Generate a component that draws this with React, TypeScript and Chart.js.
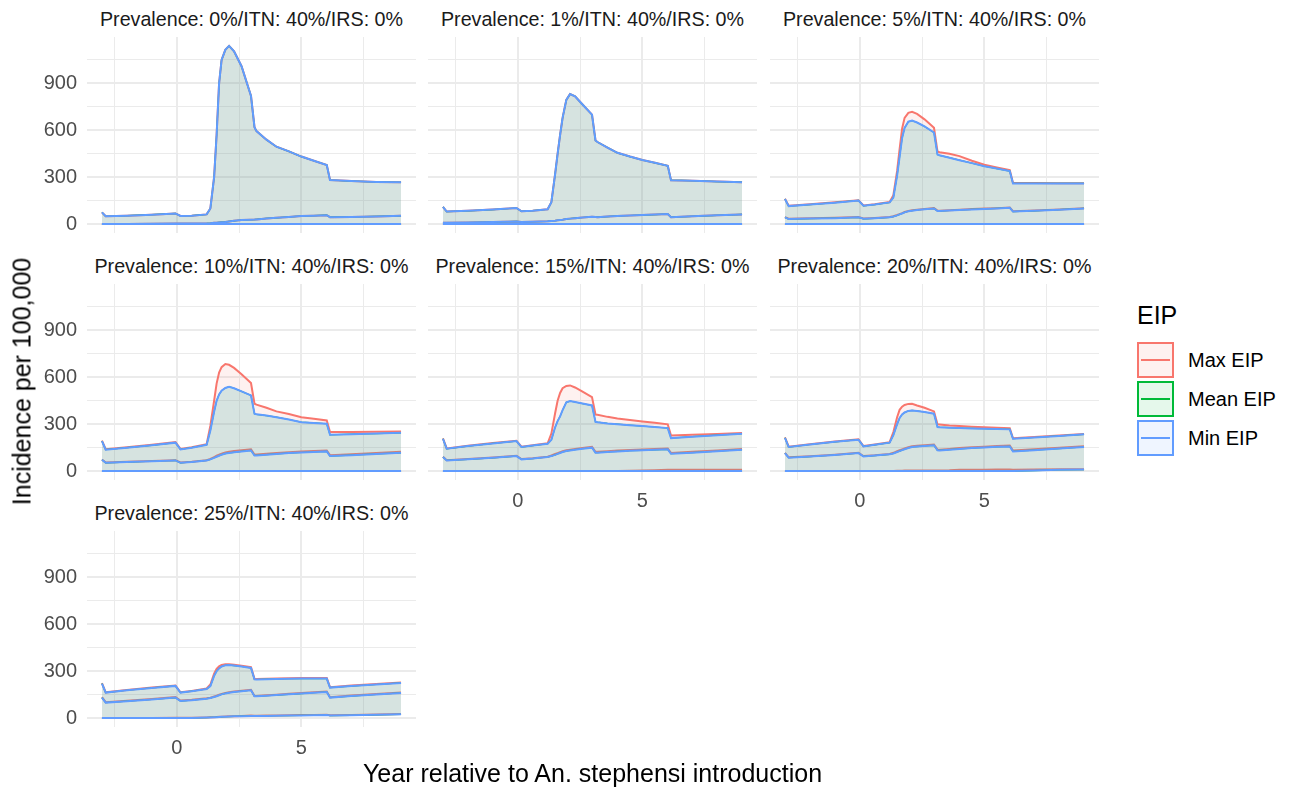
import React, { useEffect, useRef } from "react";
import { Chart, registerables } from "chart.js";
Chart.register(...registerables);

// ---------- data ----------
const years = [-3, -2.85, -2, -1, -0.05, 0.15, 0.6, 1.2, 1.35, 1.5, 1.6, 1.7, 1.8, 1.95, 2.1, 2.3, 2.6, 2.98, 3.12, 3.2, 3.6, 4.0, 4.5, 5.0, 5.5, 6.02, 6.15, 7, 8, 9];

const prevalenceLabels = ["0%", "1%", "5%", "10%", "15%", "20%", "25%"];
const seriesNames = ["Max EIP", "Mean EIP", "Min EIP"];

const zeroLine = [0, 0, 0, 0, 0, 0, 0, 0, 0, 0, 0, 0, 0, 0, 0, 0, 0, 0, 0, 0, 0, 0, 0, 0, 0, 0, 0, 0, 0, 0];

// Prevalence 0%
const p0MinUpper = [75, 50, 54, 60, 68, 52, 54, 62, 100, 300, 570, 900, 1050, 1115, 1140, 1105, 1010, 820, 620, 595, 540, 495, 465, 432, 405, 378, 282, 275, 270, 267];
const p0MinMid = [0, 0, 1, 2, 3, 3, 3, 4, 5, 8, 9, 11, 12, 14, 17, 21, 26, 28, 29, 30, 36, 40, 46, 51, 54, 57, 44, 46, 49, 53];
// Prevalence 1%
const p1MinUpper = [110, 80, 85, 93, 103, 82, 86, 95, 140, 320, 450, 570, 680, 795, 832, 818, 765, 700, 535, 525, 490, 456, 432, 410, 392, 373, 281, 278, 272, 268];
const p1MinMid = [8, 8, 10, 13, 17, 14, 15, 18, 20, 22, 24, 26, 28, 32, 35, 38, 42, 47, 45, 44, 48, 52, 55, 58, 61, 64, 44, 50, 56, 62];
// Prevalence 5%
const p2MinUpper = [160, 115, 125, 137, 151, 117, 125, 139, 170, 310, 430, 550, 615, 655, 662, 650, 625, 586, 445, 440, 425, 409, 390, 370, 355, 339, 260, 260, 260, 260];
const p2MaxUpper = [162, 117, 127, 139, 153, 119, 127, 141, 185, 340, 480, 610, 680, 712, 718, 705, 670, 616, 465, 460, 450, 435, 405, 380, 362, 345, 263, 263, 262, 262];
const p2MinMid = [43, 32, 35, 38, 43, 34, 37, 43, 48, 56, 62, 68, 75, 82, 86, 90, 95, 100, 84, 83, 87, 90, 94, 97, 100, 104, 80, 85, 92, 100];
const p2MaxMid = [45, 34, 37, 40, 45, 36, 39, 45, 50, 58, 64, 70, 77, 84, 88, 92, 97, 102, 86, 85, 89, 92, 96, 99, 102, 106, 82, 87, 94, 102];
// Prevalence 10%
const p3MinUpper = [192, 137, 150, 165, 182, 139, 150, 168, 260, 380, 450, 490, 515, 532, 540, 530, 510, 484, 367, 363, 355, 345, 330, 313, 308, 303, 232, 236, 240, 245];
const p3MaxUpper = [195, 140, 153, 168, 185, 142, 153, 172, 290, 450, 560, 630, 665, 685, 680, 660, 620, 563, 431, 425, 405, 382, 365, 345, 335, 324, 250, 250, 252, 254];
const p3MinMid = [72, 53, 58, 63, 68, 53, 58, 68, 75, 85, 92, 98, 105, 112, 116, 120, 126, 132, 100, 100, 105, 110, 115, 119, 122, 126, 96, 102, 110, 117];
const p3MaxMid = [74, 55, 60, 65, 70, 55, 60, 70, 78, 90, 98, 105, 112, 119, 124, 128, 134, 140, 106, 106, 111, 116, 121, 125, 128, 132, 102, 108, 116, 124];
// Prevalence 15%
const p4MinUpper = [207, 143, 160, 177, 192, 154, 163, 175, 200, 280, 320, 350, 390, 440, 448, 442, 432, 420, 315, 313, 305, 300, 294, 288, 282, 275, 211, 220, 230, 239];
const p4MaxUpper = [209, 145, 162, 179, 194, 156, 165, 178, 240, 370, 450, 500, 530, 545, 548, 535, 508, 473, 362, 360, 347, 336, 327, 318, 309, 299, 228, 233, 238, 243];
const p4MinMid = [90, 68, 75, 85, 96, 75, 80, 90, 96, 104, 110, 116, 122, 128, 132, 137, 143, 150, 118, 118, 122, 126, 130, 133, 136, 139, 111, 118, 127, 137];
const p4MaxMid = [92, 70, 77, 87, 98, 77, 82, 92, 100, 109, 115, 121, 127, 133, 137, 142, 148, 155, 123, 123, 127, 131, 135, 138, 141, 144, 116, 123, 132, 142];
const p4MaxLower = [0, 0, 0, 0, 0, 0, 0, 0, 0, 0, 0, 0, 0, 0, 0, 0, 0, 0, 0, 0, 0, 1, 2, 4, 6, 8, 8, 8, 9, 9];
// Prevalence 20%
const p5MinUpper = [213, 154, 170, 187, 201, 158, 168, 182, 230, 300, 340, 362, 375, 385, 388, 385, 378, 367, 282, 281, 278, 275, 273, 271, 269, 267, 207, 215, 225, 235];
const p5MaxUpper = [215, 156, 172, 189, 203, 160, 170, 185, 250, 345, 392, 412, 423, 430, 431, 420, 405, 382, 299, 298, 292, 288, 284, 281, 278, 275, 210, 218, 228, 238];
const p5MinMid = [115, 86, 93, 103, 115, 94, 99, 107, 113, 122, 128, 134, 140, 148, 154, 157, 161, 165, 133, 132, 137, 142, 147, 151, 155, 158, 126, 134, 144, 154];
const p5MaxMid = [117, 88, 95, 105, 117, 96, 101, 110, 117, 127, 133, 139, 145, 153, 159, 162, 166, 170, 138, 137, 142, 147, 152, 156, 160, 163, 131, 139, 149, 159];
const p5MinLower = [0, 0, 0, 0, 0, 0, 0, 0, 0, 0, 0, 0, 0, 0, 0, 0, 0, 0, 0, 0, 0, 0, 0, 0, 0, 0, 0, 3, 8, 10];
const p5MaxLower = [0, 0, 0, 0, 0, 0, 0, 1, 1, 2, 2, 2, 3, 3, 3, 3, 4, 4, 4, 4, 5, 8, 9, 9, 10, 10, 9, 10, 11, 12];
// Prevalence 25%
const p6MinUpper = [221, 163, 178, 193, 206, 163, 172, 186, 205, 270, 300, 318, 330, 338, 339, 336, 330, 321, 248, 247, 249, 250, 252, 253, 253, 253, 195, 205, 215, 225];
const p6MaxUpper = [223, 165, 180, 195, 208, 165, 174, 189, 215, 285, 315, 332, 340, 344, 345, 342, 335, 326, 251, 250, 252, 253, 255, 256, 256, 256, 198, 208, 218, 228];
const p6MinMid = [131, 99, 108, 119, 131, 109, 114, 124, 128, 135, 140, 146, 152, 158, 162, 167, 172, 178, 139, 139, 143, 147, 152, 157, 162, 167, 131, 141, 151, 161];
const p6MaxMid = [134, 102, 111, 122, 134, 112, 117, 127, 131, 138, 143, 149, 155, 161, 165, 170, 175, 181, 142, 142, 146, 150, 155, 160, 165, 170, 134, 144, 154, 164];
const p6MinLower = [0, 0, 0, 0, 1, 1, 1, 3, 4, 5, 6, 7, 8, 9, 10, 11, 12, 14, 13, 13, 14, 15, 16, 17, 18, 19, 16, 18, 21, 24];
const p6MaxLower = [0, 0, 0, 1, 2, 2, 2, 4, 5, 6, 7, 8, 9, 10, 11, 12, 14, 16, 15, 15, 16, 17, 18, 19, 20, 21, 18, 20, 23, 26];

const xTickValues = [0, 5];
const yTickValues = [0, 300, 600, 900];

// ---------- styling ----------
const COLORS = ["#F8766D", "#00BA38", "#619CFF"];
const FILLS = ["rgba(248,118,109,0.1)", "rgba(0,186,56,0.1)", "rgba(97,156,255,0.1)"];
// Mean EIP lies exactly under Min EIP: draw it thinner so it never peeks out
const LINE_W = [2, 1.2, 2];
const FONT = "'Liberation Sans', Arial, Helvetica, sans-serif";

type Band = { lower: number[]; mid: number[]; upper: number[] };
type PanelData = { title: string; bands: Band[] };

// bands in order Max, Mean, Min (Mean lies under Min)
const panels: PanelData[] = [
  { lower: zeroLine, mid: p0MinMid, upper: p0MinUpper, maxL: zeroLine, maxM: p0MinMid, maxU: p0MinUpper },
  { lower: zeroLine, mid: p1MinMid, upper: p1MinUpper, maxL: zeroLine, maxM: p1MinMid, maxU: p1MinUpper },
  { lower: zeroLine, mid: p2MinMid, upper: p2MinUpper, maxL: zeroLine, maxM: p2MaxMid, maxU: p2MaxUpper },
  { lower: zeroLine, mid: p3MinMid, upper: p3MinUpper, maxL: zeroLine, maxM: p3MaxMid, maxU: p3MaxUpper },
  { lower: zeroLine, mid: p4MinMid, upper: p4MinUpper, maxL: p4MaxLower, maxM: p4MaxMid, maxU: p4MaxUpper },
  { lower: p5MinLower, mid: p5MinMid, upper: p5MinUpper, maxL: p5MaxLower, maxM: p5MaxMid, maxU: p5MaxUpper },
  { lower: p6MinLower, mid: p6MinMid, upper: p6MinUpper, maxL: p6MaxLower, maxM: p6MaxMid, maxU: p6MaxUpper },
].map((p, i) => ({
  title: `Prevalence: ${prevalenceLabels[i]}/ITN: 40%/IRS: 0%`,
  bands: [
    { lower: p.maxL, mid: p.maxM, upper: p.maxU },
    { lower: p.lower, mid: p.mid, upper: p.upper },
    { lower: p.lower, mid: p.mid, upper: p.upper },
  ],
}));

// ---------- layout ----------
const PANEL_W = 329;
const PANEL_H = 196;
const YW = 60;
const XH = 40;
const COL_LEFT = [87, 428, 770];
const ROW_TOP = [37, 284, 531];
const Y_MIN = -57;
const Y_MAX = 1197;
const X_MIN = -3.6;
const X_MAX = 9.6;

const toPts = (arr: number[]) => years.map((x, i) => ({ x, y: arr[i] }));

function Panel({ data, left, top, showY, showX }: { data: PanelData; left: number; top: number; showY: boolean; showX: boolean }) {
  const ref = useRef<HTMLCanvasElement | null>(null);
  const w = PANEL_W + (showY ? YW : 0);
  const h = PANEL_H + (showX ? XH : 0);
  useEffect(() => {
    if (!ref.current) return;
    const datasets: any[] = [];
    data.bands.forEach((b, s) => {
      const order = 2 - s;
      const common = { borderColor: COLORS[s], borderWidth: LINE_W[s], pointRadius: 0, tension: 0, order, label: seriesNames[s] };
      datasets.push({ ...common, data: toPts(b.lower), fill: false });
      datasets.push({ ...common, data: toPts(b.upper), fill: "-1", backgroundColor: FILLS[s] });
      datasets.push({ ...common, data: toPts(b.mid), fill: false });
    });
    const chart = new Chart(ref.current, {
      type: "line",
      data: { datasets },
      options: {
        animation: false,
        responsive: false,
        maintainAspectRatio: false,
        layout: { padding: 0 },
        events: [],
        plugins: { legend: { display: false }, tooltip: { enabled: false }, title: { display: false } },
        scales: {
          x: {
            type: "linear",
            min: X_MIN,
            max: X_MAX,
            border: { display: false },
            grid: {
              color: "#EBEBEB",
              drawTicks: false,
              lineWidth: (ctx: any) => (ctx.tick && ctx.tick.value % 5 === 0 ? 2 : 1),
            },
            ticks: {
              display: showX,
              stepSize: 2.5,
              includeBounds: false,
              autoSkip: false,
              maxRotation: 0,
              padding: 9,
              color: "#4D4D4D",
              font: { size: 20, family: FONT },
              callback: (v: any) => (xTickValues.includes(Number(v)) ? String(v) : ""),
            },
            afterFit: (s: any) => {
              s.height = showX ? XH : 0;
              s.paddingLeft = 0;
              s.paddingRight = 0;
            },
          },
          y: {
            type: "linear",
            min: Y_MIN,
            max: Y_MAX,
            border: { display: false },
            grid: {
              color: "#EBEBEB",
              drawTicks: false,
              lineWidth: (ctx: any) => (ctx.tick && ctx.tick.value % 300 === 0 ? 2 : 1),
            },
            ticks: {
              display: showY,
              stepSize: 150,
              includeBounds: false,
              autoSkip: false,
              padding: 10,
              color: "#4D4D4D",
              font: { size: 20, family: FONT },
              callback: (v: any) => (yTickValues.includes(Number(v)) ? String(v) : ""),
            },
            afterFit: (s: any) => {
              s.width = showY ? YW : 0;
              s.paddingTop = 0;
              s.paddingBottom = 0;
            },
          },
        },
      } as any,
    });
    return () => chart.destroy();
  }, [data, showX, showY]);
  return (
    <canvas
      ref={ref}
      width={w}
      height={h}
      style={{ position: "absolute", left: left - (showY ? YW : 0), top, width: w, height: h }}
    />
  );
}

export default function App() {
  return (
    <div style={{ position: "absolute", left: 0, top: 0, width: 1290, height: 789, background: "#fff", fontFamily: FONT, overflow: "hidden" }}>
      {panels.map((p, i) => {
        const row = Math.floor(i / 3);
        const col = i % 3;
        const left = COL_LEFT[col];
        const top = ROW_TOP[row];
        return (
          <React.Fragment key={i}>
            <div
              style={{
                position: "absolute",
                left,
                width: PANEL_W,
                top: top - 18.2 - 10,
                height: 20,
                lineHeight: "20px",
                fontSize: 19.7,
                color: "#1A1A1A",
                textAlign: "center",
                whiteSpace: "nowrap",
              }}
            >
              {p.title}
            </div>
            <Panel data={p} left={left} top={top} showY={col === 0} showX={i >= 4} />
          </React.Fragment>
        );
      })}
      <div
        style={{
          position: "absolute",
          left: 21.7 - 200,
          top: 381.5 - 12.5,
          width: 400,
          height: 25,
          lineHeight: "25px",
          fontSize: 25,
          color: "#000",
          textAlign: "center",
          whiteSpace: "nowrap",
          transform: "rotate(-90deg)",
        }}
      >
        Incidence per 100,000
      </div>
      <div
        style={{
          position: "absolute",
          left: 592.5 - 300,
          top: 773 - 12.5,
          width: 600,
          height: 25,
          lineHeight: "25px",
          fontSize: 25,
          color: "#000",
          textAlign: "center",
          whiteSpace: "nowrap",
        }}
      >
        Year relative to An. stephensi introduction
      </div>
      <div style={{ position: "absolute", left: 1137, top: 315 - 12.5, height: 25, lineHeight: "25px", fontSize: 25, color: "#000" }}>EIP</div>
      {seriesNames.map((name, i) => {
        const top = 341.5 + i * 39.2;
        return (
          <React.Fragment key={name}>
            <div
              style={{
                position: "absolute",
                left: 1137,
                top,
                width: 37,
                height: 36,
                boxSizing: "border-box",
                border: `2px solid ${COLORS[i]}`,
                background: FILLS[i],
              }}
            >
              <div style={{ position: "absolute", left: 2, right: 2, top: 15, height: 2, background: COLORS[i] }} />
            </div>
            <div
              style={{
                position: "absolute",
                left: 1188,
                top: top + 18 - 10,
                height: 20,
                lineHeight: "20px",
                fontSize: 20,
                color: "#000",
                whiteSpace: "nowrap",
              }}
            >
              {name}
            </div>
          </React.Fragment>
        );
      })}
    </div>
  );
}
